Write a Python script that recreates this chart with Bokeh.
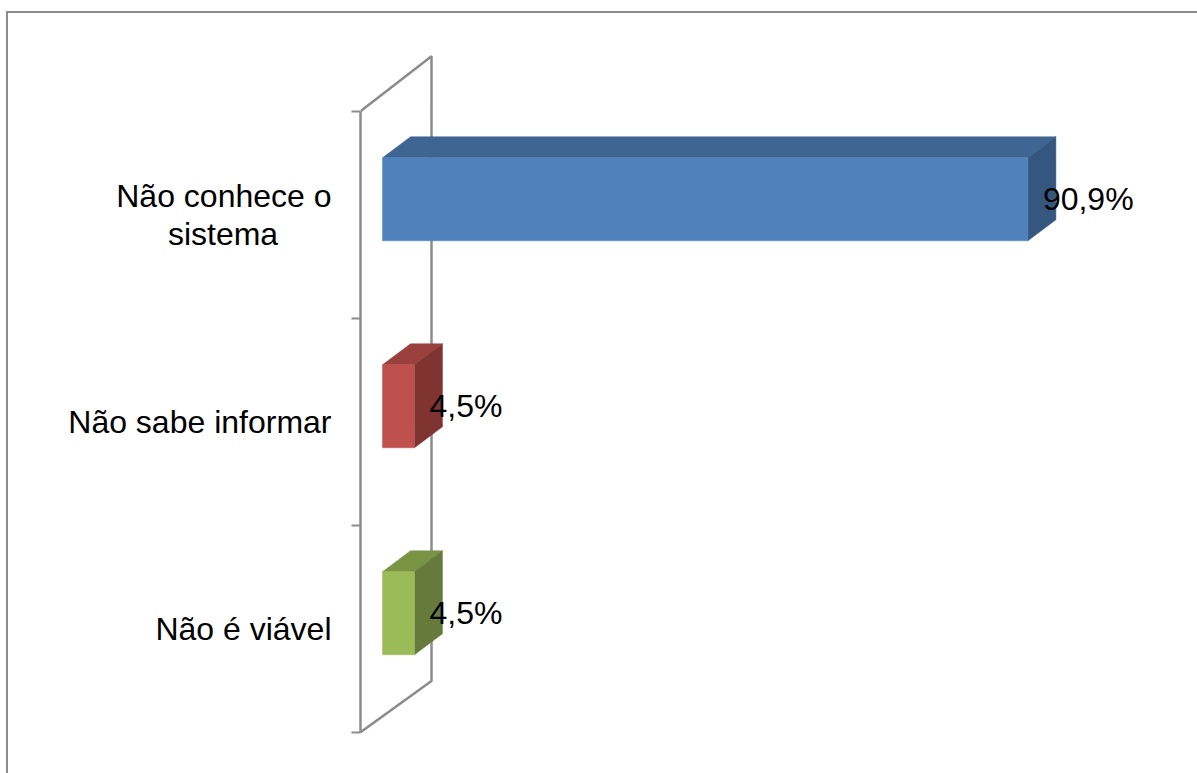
from bokeh.plotting import figure
from bokeh.embed import file_html
from bokeh.resources import INLINE
from bokeh.models import Range1d, LinearAxis, FixedTicker, InlineStyleSheet
from bokeh.core.properties import value

categories = ["Não conhece o\nsistema\u00a0\u00a0\u00a0\u00a0\u00a0\u00a0", "Não sabe informar", "Não é viável"]
values = [90.9, 4.5, 4.5]
labels = ["90,9%", "4,5%", "4,5%"]
front = ["#4F81BD", "#C0504D", "#9BBB59"]
top = ["#3F6592", "#9A403D", "#7A9445"]
side = ["#35567F", "#7F3432", "#667B3B"]

PX_X = 7.1     # pixels per percent
PX_Y = 207.0   # pixels per category
X0 = 382
Y0 = 110.8
W, H = 1197, 773
LEFT = 360

x_range = Range1d((LEFT - X0) / PX_X, (W - X0) / PX_X)
y_range = Range1d((H - Y0) / PX_Y, -Y0 / PX_Y)

grey = "#8C8C8C"
frame_css = InlineStyleSheet(css=f""":host::after {{
  content: ""; position: absolute; left: 6px; top: 11px; right: 0; bottom: 0;
  border-left: 2px solid {grey}; border-top: 2px solid {grey};
  pointer-events: none; z-index: 5;
}}""")

p = figure(width=W, height=H, x_range=x_range, y_range=y_range,
           output_backend="svg", toolbar_location=None,
           min_border_left=LEFT, min_border_right=0, min_border_top=0, min_border_bottom=0,
           x_axis_location=None, y_axis_location=None,
           styles={"position": "relative"}, stylesheets=[frame_css])
p.grid.visible = False
p.outline_line_color = None
p.background_fill_color = "white"
p.border_fill_color = "white"

dx = 28 / PX_X
dy = 21 / PX_Y
half = 41.5 / PX_Y
wall_x = (431 - X0) / PX_X
floor_off = (731.7 - 680.5) / PX_Y
centers = [i + 0.425 for i in range(3)]
label_pos = [i + 0.5 for i in range(3)]

xl = x_range.start
p.line([xl, wall_x, wall_x, xl], [0, -55 / PX_Y, 3 - floor_off, 3], line_color=grey, line_width=2.5)

for i, v in enumerate(values):
    c = centers[i]
    t, b = c - half, c + half
    p.patch([0, v, v + dx, dx], [t, t, t - dy, t - dy], fill_color=top[i], line_color=top[i], line_width=0.5)
    p.patch([v, v + dx, v + dx, v], [t, t - dy, b - dy, b], fill_color=side[i], line_color=side[i], line_width=0.5)
    p.quad(left=[0], right=[v], top=[t], bottom=[b], fill_color=front[i], line_color=front[i], line_width=0.5)
    p.text([v + 15 / PX_X], [c], text=[labels[i]], text_font=value("Liberation Sans"),
           text_font_size="32px", text_color="black", text_baseline="middle", text_align="left")

axis = LinearAxis(ticker=FixedTicker(ticks=label_pos, minor_ticks=[0, 1, 2, 3]), bounds=(0, 3),
                  axis_line_color=grey, axis_line_width=2.5,
                  major_tick_line_color=None, major_tick_in=0, major_tick_out=0,
                  minor_tick_line_color=grey, minor_tick_line_width=2,
                  minor_tick_in=0, minor_tick_out=9, major_label_standoff=20,
                  major_label_overrides={c: n for c, n in zip(label_pos, categories)},
                  major_label_text_font="Liberation Sans",
                  major_label_text_font_size="32px", major_label_text_color="black",
                  major_label_text_line_height=1.05)
p.add_layout(axis, "left")

open("out.html", "w").write(file_html(p, INLINE))
